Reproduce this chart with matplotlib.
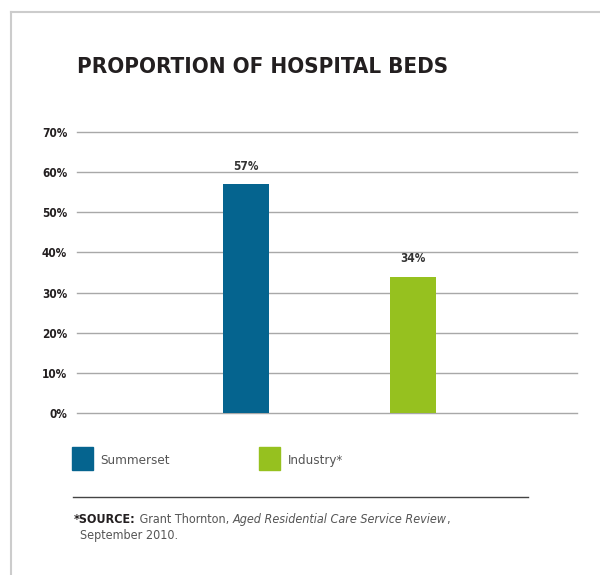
import matplotlib
matplotlib.use("Agg")
import matplotlib.pyplot as plt

# Data
categories = ["Summerset", "Industry*"]
values = [57, 34]
value_labels = ["57%", "34%"]
colors = ["#05648F", "#96C11F"]
y_ticks = [0, 10, 20, 30, 40, 50, 60, 70]
y_tick_labels = ["0%", "10%", "20%", "30%", "40%", "50%", "60%", "70%"]

W, H = 600, 575
NARROW = ["DejaVu Sans"]


def fx(x):
    return x / W


def fy(y):
    return 1 - y / H


fig = plt.figure(figsize=(W / 100, H / 100), dpi=100)
fig.patch.set_facecolor("white")

# light frame along the top and left edges
fig.add_artist(plt.Line2D([fx(11), fx(11)], [fy(12), 0], color="#cccccc", lw=1.5))
fig.add_artist(plt.Line2D([fx(11), 1], [fy(12), fy(12)], color="#cccccc", lw=1.5))

# title
fig.text(fx(77), fy(67), "PROPORTION OF HOSPITAL BEDS", family=NARROW,
         stretch="condensed", weight="bold", fontsize=16, color="#231f20",
         va="center", ha="left")

# plot area
ax = fig.add_axes([fx(77), fy(413), fx(577) - fx(77), fy(132) - fy(413)])
x = [0, 1]
for t in y_ticks:
    ax.axhline(t, color="#a8a8a8", lw=1.0, zorder=0, clip_on=False)
bars = ax.bar(x, values, width=0.275, color=colors, zorder=2)
ax.set_xlim(-1.012, 1.982)
ax.set_ylim(0, 70)
for s in ax.spines.values():
    s.set_visible(False)
ax.set_xticks([])
ax.set_yticks(y_ticks)
ax.set_yticklabels(y_tick_labels, family=NARROW, stretch="condensed",
                   weight="bold", fontsize=8.5, color="#231f20")
ax.tick_params(axis="y", length=0, pad=7)

for xi, v, lab in zip(x, values, value_labels):
    ax.annotate(lab, (xi, v), xytext=(0, 8), textcoords="offset points",
                ha="center", va="bottom", family=NARROW, stretch="condensed",
                weight="bold", fontsize=8.5, color="#333333")

# legend
for (lx, tx), cat, col in zip([(72, 100), (259, 288)], categories, colors):
    fig.patches.append(plt.Rectangle((fx(lx), fy(470)), fx(21), fy(447) - fy(470),
                                     transform=fig.transFigure, color=col))
    fig.text(fx(tx), fy(464), cat, family=NARROW, stretch="condensed",
             fontsize=9.5, color="#555555", va="baseline", ha="left")

# source note
fig.add_artist(plt.Line2D([fx(73), fx(528)], [fy(497), fy(497)], color="#444444", lw=1))
note = dict(family=NARROW, stretch="condensed", fontsize=9,
            va="baseline", ha="left")
t1 = fig.text(fx(74), fy(523), "*SOURCE:", weight="bold", color="#231f20", **note)
t2 = fig.text(0, 0, " Grant Thornton, ", color="#555555", **note)
t3 = fig.text(0, 0, "Aged Residential Care Service Review", style="italic",
              color="#555555", **note)
t4 = fig.text(0, 0, ",", color="#555555", **note)
fig.text(fx(80), fy(539), "September 2010.", color="#555555", **note)

# chain the inline pieces of the source line
fig.canvas.draw()
r = fig.canvas.get_renderer()
prev = t1
for t in (t2, t3, t4):
    bb = prev.get_window_extent(r)
    t.set_position((bb.x1 / fig.bbox.width, fy(523)))
    fig.canvas.draw()
    prev = t

fig.savefig("out.png", dpi=100, facecolor="white")
